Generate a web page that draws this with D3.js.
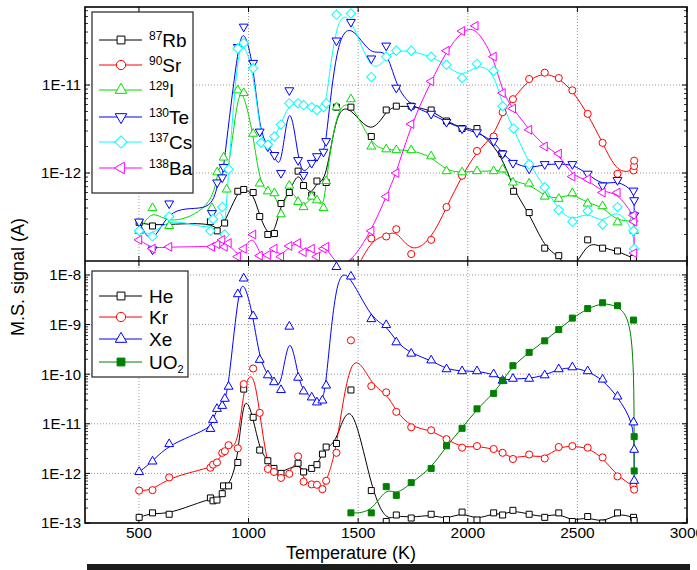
<!DOCTYPE html>
<html>
<head>
<meta charset="utf-8">
<script src="https://cdn.jsdelivr.net/npm/d3@7"></script>
<style>
  body { margin: 0; background: #fff; }
  text { font-family: "Liberation Sans", Arial, sans-serif; }
</style>
</head>
<body>
<div id="chart-area"></div>
<script>
// ---- DATA (temperature K, signal A) ----
// top panel
var rb = [[501,2.75e-13],[562,2.5e-13],[826,2.8e-13],[857,2.2e-13],[891,2.7e-13],[951,6.2e-13],[978,6.5e-13],[1021,6.0e-13],[1051,3.2e-13],[1088,2.0e-13],[1118,2.05e-13],[1148,4.5e-13],[1186,6.0e-13],[1226,1.05e-12],[1251,7.2e-13],[1288,5.6e-13],[1312,8.1e-13],[1354,7.8e-13],[1401,5.6e-12],[1467,5.6e-12],[1560,2.6e-12],[1628,5.2e-12],[1674,5.75e-12],[1742,5.75e-12],[1833,5.2e-12],[1903,3.9e-12],[1974,3.2e-12],[2042,3.2e-12],[2156,1.66e-12],[2209,6.2e-13],[2280,3.55e-13],[2351,1.4e-13],[2415,1.15e-13],[2477,7e-14],[2547,1.74e-13],[2615,1.4e-13],[2683,1.3e-13],[2756,1.07e-13]];
var sr = [[1467,6e-14],[1560,1.8e-13],[1628,1.9e-13],[1674,2.3e-13],[1742,1.2e-13],[1833,1.74e-13],[1903,4.1e-13],[1974,9.3e-13],[2042,1.78e-12],[2118,2.6e-12],[2159,4.9e-12],[2206,6.9e-12],[2280,1.17e-11],[2351,1.38e-11],[2415,1.2e-11],[2477,8.7e-12],[2547,4.7e-12],[2615,2.2e-12],[2683,9.8e-13],[2756,1.07e-12],[2759,1.2e-12],[2759,1.38e-12]];
var iod = [[501,2.2e-13],[562,4.0e-13],[638,2.5e-13],[833,4.0e-13],[857,1.02e-12],[886,1.5e-12],[900,6.5e-13],[951,8.7e-12],[978,8.1e-12],[1021,2.8e-12],[1051,7.6e-13],[1088,6.2e-13],[1118,5.9e-13],[1148,3.4e-13],[1186,7.2e-13],[1226,4.7e-13],[1251,4.1e-13],[1288,5.4e-13],[1312,4.9e-13],[1342,4.0e-13],[1354,8.1e-13],[1401,5.6e-12],[1467,6.9e-12],[1560,2.0e-12],[1628,1.86e-12],[1674,1.82e-12],[1742,1.82e-12],[1833,1.55e-12],[1903,1.05e-12],[1974,1.02e-12],[2042,1.05e-12],[2118,1.05e-12],[2159,1.1e-12],[2206,7.8e-13],[2280,7.6e-13],[2351,5.4e-13],[2415,5.1e-13],[2477,5.9e-13],[2547,4.5e-13],[2615,4.2e-13],[2683,2.75e-13],[2756,3.0e-13],[2759,2.2e-13]];
var te = [[501,2.8e-13],[562,1.35e-13],[638,4.5e-13],[833,3.5e-13],[857,7.8e-13],[880,8.9e-13],[886,1.17e-12],[951,2.7e-11],[978,4.6e-11],[1021,1.78e-11],[1051,2.95e-12],[1088,2.0e-12],[1118,1.6e-12],[1148,1.0e-12],[1186,8.7e-12],[1226,1.4e-12],[1251,9.5e-13],[1288,1.3e-12],[1312,1.55e-12],[1342,1.74e-12],[1354,2.3e-12],[1401,3.2e-11],[1467,5.2e-11],[1560,2.0e-11],[1628,2.8e-11],[1674,9.3e-12],[1742,5.75e-12],[1833,4.7e-12],[1903,3.8e-12],[1974,3.2e-12],[2042,2.9e-12],[2118,2.3e-12],[2159,1.66e-12],[2206,1.3e-12],[2280,1.12e-12],[2351,1.26e-12],[2415,1.26e-12],[2477,1.26e-12],[2547,9.8e-13],[2615,7.2e-13],[2683,8.3e-13],[2756,6.3e-13],[2759,4.9e-13],[2759,3.3e-13]];
var cs = [[501,2.2e-13],[562,1.9e-13],[638,3.2e-13],[826,2.2e-13],[838,3.0e-13],[880,4.1e-13],[891,2.0e-13],[909,1.1e-12],[951,2.6e-11],[978,3.0e-11],[1021,1.55e-11],[1057,2.2e-12],[1088,2.1e-12],[1118,2.6e-12],[1148,3.55e-12],[1186,6.2e-12],[1226,6.2e-12],[1251,5.9e-12],[1288,5.6e-12],[1312,5.2e-12],[1342,5.6e-12],[1354,6.2e-12],[1401,6.3e-11],[1467,6.5e-11],[1560,1.23e-11],[1628,2.1e-11],[1674,2.45e-11],[1742,2.45e-11],[1833,2.1e-11],[1903,1.7e-11],[1974,1.2e-11],[2042,1.74e-11],[2118,1.45e-11],[2159,5.75e-12],[2209,3.2e-12],[2280,1.26e-12],[2351,6.9e-13],[2415,3.8e-13],[2477,2.8e-13],[2547,3.7e-13],[2615,2.6e-13],[2683,4.1e-13],[2756,2.2e-13],[2759,1.38e-13]];
var ba = [[501,1.74e-13],[562,1.38e-13],[638,1.45e-13],[833,1.45e-13],[857,1.55e-13],[880,1.74e-13],[891,1.45e-13],[909,1.6e-13],[951,1.12e-13],[978,1.38e-13],[1021,2.0e-13],[1051,1.15e-13],[1088,1.17e-13],[1118,1.38e-13],[1148,1.12e-13],[1186,1.48e-13],[1226,1.6e-13],[1251,1.26e-13],[1288,1.38e-13],[1312,1.12e-13],[1342,1.38e-13],[1354,1.45e-13],[1401,8.9e-14],[1467,9.5e-14],[1560,2.2e-13],[1628,5.4e-13],[1674,1.0e-12],[1742,3.6e-12],[1833,1.1e-11],[1903,2.45e-11],[1974,4.1e-11],[2035,4.7e-11],[2118,2.1e-11],[2159,8.1e-12],[2206,5.4e-12],[2280,3.1e-12],[2351,2.0e-12],[2415,1.66e-12],[2477,9.1e-13],[2547,8.5e-13],[2615,6.0e-13],[2683,6.0e-13],[2756,3.3e-13],[2759,2.8e-13],[2759,1.23e-13]];

// bottom panel
var he = [[501,1.3e-13],[562,1.6e-13],[638,1.5e-13],[826,3.2e-13],[838,2.8e-13],[856,2.9e-13],[880,3.9e-13],[886,5.6e-13],[909,5.6e-13],[951,1.66e-12],[978,5.0e-11],[1021,1.35e-11],[1051,2.95e-12],[1088,1.8e-12],[1116,1.26e-12],[1148,1.0e-12],[1226,1.6e-12],[1251,1.07e-12],[1288,1.26e-12],[1312,1.5e-12],[1337,2.45e-12],[1354,3.4e-12],[1401,4.0e-12],[1467,4.8e-11],[1560,4.5e-13],[1628,1.07e-13],[1674,1.45e-13],[1742,1.26e-13],[1833,1.5e-13],[1903,1.17e-13],[1974,1.66e-13],[2042,1.15e-13],[2118,1.6e-13],[2159,1.45e-13],[2206,1.8e-13],[2280,1.5e-13],[2351,1.3e-13],[2415,1.6e-13],[2477,1.07e-13],[2547,1.35e-13],[2615,1.0e-13],[2683,1.6e-13],[2756,1.3e-13],[2759,1.12e-13]];
var kr = [[501,4.5e-13],[562,4.6e-13],[638,8.3e-13],[826,1.3e-12],[838,1.5e-12],[856,1.66e-12],[880,2.6e-12],[892,2.8e-12],[909,3.7e-12],[951,3.2e-12],[978,6.3e-11],[1021,1.3e-10],[1051,1.66e-11],[1088,1.23e-12],[1116,1.07e-12],[1148,8.1e-13],[1186,9.8e-13],[1226,2.2e-12],[1251,6.8e-13],[1288,6.0e-13],[1312,5.9e-13],[1337,4.8e-13],[1354,7.1e-13],[1401,2.6e-12],[1467,4.8e-10],[1560,5.75e-11],[1628,4.3e-11],[1674,1.74e-11],[1742,8.5e-12],[1833,7.4e-12],[1903,4.9e-12],[1974,3.3e-12],[2042,3.55e-12],[2118,3.1e-12],[2159,2.6e-12],[2206,1.95e-12],[2280,2.4e-12],[2351,2.0e-12],[2415,3.4e-12],[2477,3.55e-12],[2547,3.3e-12],[2615,2.1e-12],[2683,8.7e-13],[2756,5.6e-13],[2759,4.7e-13]];
var xe = [[501,1.07e-12],[562,1.74e-12],[638,3.9e-12],[826,7.9e-12],[838,1.2e-11],[856,2.0e-11],[880,2.3e-11],[892,3.2e-11],[909,5.6e-11],[951,4.1e-9],[978,8.5e-9],[1021,1.48e-9],[1051,1.95e-10],[1088,9.5e-11],[1116,6.9e-11],[1148,4.8e-11],[1186,9.1e-10],[1226,8.5e-11],[1251,4.5e-11],[1288,3.4e-11],[1312,2.7e-11],[1337,2.95e-11],[1354,5.9e-11],[1401,1.45e-8],[1467,9.3e-9],[1560,1.29e-9],[1628,9.8e-10],[1674,4.4e-10],[1742,2.6e-10],[1833,1.9e-10],[1903,1.26e-10],[1974,1.15e-10],[2042,1.15e-10],[2118,1.0e-10],[2159,7.4e-11],[2206,8.1e-11],[2280,8.1e-11],[2351,9.5e-11],[2415,1.26e-10],[2477,1.38e-10],[2547,1.15e-10],[2615,7.8e-11],[2683,3.55e-11],[2756,1.07e-11],[2759,3.0e-12],[2759,7.1e-13]];
var uo2 = [[1467,1.6e-13],[1560,1.6e-13],[1628,5.4e-13],[1674,3.6e-13],[1742,6.5e-13],[1833,1.26e-12],[1903,3.6e-12],[1974,8.1e-12],[2042,2.0e-11],[2118,4.1e-11],[2159,7.4e-11],[2206,1.48e-10],[2280,2.75e-10],[2351,4.7e-10],[2415,7.9e-10],[2477,1.35e-9],[2547,2.1e-9],[2615,2.75e-9],[2683,2.4e-9],[2756,1.23e-9],[2759,5.5e-12],[2759,1.12e-12]];

var xTicks = [500, 1000, 1500, 2000, 2500, 3000];
var topTicks = [1e-12, 1e-11];
var botTicks = [1e-13, 1e-12, 1e-11, 1e-10, 1e-9, 1e-8];

// ---- LAYOUT ----
var width = 697, height = 570;
var left = 85, right = 687;
var topY0 = 7, topY1 = 261, botY1 = 523;

var svg = d3.select("#chart-area").append("svg")
    .attr("width", width).attr("height", height);

var x = d3.scaleLinear().domain([254, 3000]).range([left, right]);
var yTop = d3.scaleLog().domain([1e-13, 7.7e-11]).range([topY1, topY0]);
var yBot = d3.scaleLog().domain([1e-13, 1.91e-8]).range([botY1, topY1]);

var sq = d3.symbol().type(d3.symbolSquare);
var circ = d3.symbol().type(d3.symbolCircle);
var tri = d3.symbol().type(d3.symbolTriangle);

// marker kinds: [generator, size, rotation]
var mk = {
    square: [sq, 36, 0],
    circle: [circ, 40, 0],
    up: [tri, 34, 0],
    down: [tri, 34, 180],
    diamond: [sq, 44, 45],
    left: [tri, 34, -90]
};

var topSeries = [
    { data: rb, color: "#000000", marker: "square", iso: "87", name: "Rb" },
    { data: sr, color: "#ff0000", marker: "circle", iso: "90", name: "Sr" },
    { data: iod, color: "#00dd00", marker: "up", iso: "129", name: "I" },
    { data: te, color: "#0000ff", marker: "down", iso: "130", name: "Te" },
    { data: cs, color: "#00ffff", marker: "diamond", iso: "137", name: "Cs" },
    { data: ba, color: "#ff00ff", marker: "left", iso: "138", name: "Ba" }
];
var botSeries = [
    { data: he, color: "#000000", marker: "square", name: "He" },
    { data: kr, color: "#ff0000", marker: "circle", name: "Kr" },
    { data: xe, color: "#0000ff", marker: "up", name: "Xe" },
    { data: uo2, color: "#008000", marker: "square", name: "UO", sub: "2", filled: true }
];

function markerPath(kind, scale) {
    var m = mk[kind];
    return m[0].size(m[1] * (scale || 1))();
}
function markerRot(kind) { return mk[kind][2]; }

function drawPanel(y, y0, y1, ticks, series, id) {
    var clip = svg.append("clipPath").attr("id", id)
        .append("rect").attr("x", left).attr("y", y0)
        .attr("width", right - left).attr("height", y1 - y0);

    var grid = svg.append("g");
    // gridlines
    grid.selectAll(".hg").data(ticks.filter(function (t) { return y(t) > y0 + 2 && y(t) < y1 - 2; }))
        .enter().append("line")
        .attr("x1", left).attr("x2", right)
        .attr("y1", function (d) { return y(d); }).attr("y2", function (d) { return y(d); })
        .attr("stroke", "#999").attr("stroke-width", 1).attr("stroke-dasharray", "1,2");
    grid.selectAll(".vg").data(xTicks.slice(0, 5)).enter().append("line")
        .attr("x1", function (d) { return x(d); }).attr("x2", function (d) { return x(d); })
        .attr("y1", y0).attr("y2", y1)
        .attr("stroke", "#999").attr("stroke-width", 1).attr("stroke-dasharray", "1,2");

    // minor log ticks on left and right
    var minors = [];
    var lo = Math.round(Math.log10(y.domain()[0])), hi = Math.ceil(Math.log10(y.domain()[1]));
    for (var e = lo; e < hi; e++) {
        for (var k = 2; k <= 9; k++) {
            var v = k * Math.pow(10, e);
            if (y(v) > y0 && y(v) < y1) minors.push(v);
        }
    }
    grid.selectAll(".mt").data(minors).enter().append("path")
        .attr("d", function (d) {
            return "M" + left + "," + y(d) + "h3M" + right + "," + y(d) + "h-3";
        })
        .attr("stroke", "#000").attr("stroke-width", 0.8);
    grid.selectAll(".Mt").data(ticks).enter().append("path")
        .attr("d", function (d) {
            return "M" + left + "," + y(d) + "h5M" + right + "," + y(d) + "h-5";
        })
        .attr("stroke", "#000").attr("stroke-width", 1);
    grid.selectAll(".xt").data(xTicks).enter().append("path")
        .attr("d", function (d) {
            return "M" + x(d) + "," + y0 + "v5M" + x(d) + "," + y1 + "v-5";
        })
        .attr("stroke", "#000").attr("stroke-width", 1);

    // tick labels
    svg.append("g").selectAll("text").data(ticks).enter().append("text")
        .attr("x", left - 4).attr("y", function (d) { return y(d); })
        .attr("dy", "0.36em")
        .attr("text-anchor", "end")
        .attr("font-size", "15px")
        .text(function (d) { return "1E" + Math.round(Math.log10(d)); });

    // series
    var plot = svg.append("g").attr("clip-path", "url(#" + id + ")");
    var line = d3.line()
        .x(function (d) { return x(d[0]); })
        .y(function (d) { return y(d[1]); })
        .curve(d3.curveBasis);
    series.forEach(function (s) {
        plot.append("path").datum(s.data)
            .attr("d", line)
            .attr("fill", "none")
            .attr("stroke", s.color)
            .attr("stroke-width", 1);
    });
    series.forEach(function (s) {
        plot.selectAll(null).data(s.data).enter().append("path")
            .attr("d", markerPath(s.marker))
            .attr("transform", function (d) {
                return "translate(" + x(d[0]) + "," + y(d[1]) + ") rotate(" + markerRot(s.marker) + ")";
            })
            .attr("fill", s.filled ? s.color : "white")
            .attr("stroke", s.color)
            .attr("stroke-width", 1);
    });
}

drawPanel(yTop, topY0, topY1, topTicks, topSeries, "clipTop");
drawPanel(yBot, topY1, botY1, botTicks, botSeries, "clipBot");

// frame
svg.append("rect").attr("x", left).attr("y", topY0)
    .attr("width", right - left).attr("height", botY1 - topY0)
    .attr("fill", "none").attr("stroke", "#000").attr("stroke-width", 1.6);
svg.append("line").attr("x1", left).attr("x2", right)
    .attr("y1", topY1).attr("y2", topY1)
    .attr("stroke", "#000").attr("stroke-width", 1.6);

// x tick labels
svg.append("g").selectAll("text").data(xTicks).enter().append("text")
    .attr("x", function (d) { return x(d); })
    .attr("y", 538)
    .attr("text-anchor", "middle")
    .attr("font-size", "15.5px")
    .text(function (d) { return d; });

// axis labels
svg.append("text")
    .attr("x", 351).attr("y", 559)
    .attr("text-anchor", "middle")
    .attr("font-size", "18px")
    .text("Temperature (K)");
svg.append("text")
    .attr("transform", "translate(24, 277) rotate(-90)")
    .attr("text-anchor", "middle")
    .attr("font-size", "18px")
    .text("M.S. signal (A)");

// ---- LEGENDS ----
function legend(series, bx, by, bw, bh, rows) {
    var g = svg.append("g");
    g.append("rect").attr("x", bx).attr("y", by).attr("width", bw).attr("height", bh)
        .attr("fill", "white").attr("stroke", "#333").attr("stroke-width", 1.3);
    series.forEach(function (s, i) {
        var ry = rows[i];
        g.append("line").attr("x1", bx + 7).attr("x2", bx + 50)
            .attr("y1", ry).attr("y2", ry)
            .attr("stroke", s.color).attr("stroke-width", 1);
        g.append("path").attr("d", markerPath(s.marker, 1.7))
            .attr("transform", "translate(" + (bx + 29) + "," + ry + ") rotate(" + markerRot(s.marker) + ")")
            .attr("fill", s.filled ? s.color : "white")
            .attr("stroke", s.color).attr("stroke-width", 1);
        var t = g.append("text").attr("x", bx + 57).attr("y", ry + 7).attr("font-size", "19px");
        if (s.iso) {
            t.append("tspan").attr("font-size", "12px").attr("dy", "-7").text(s.iso);
            t.append("tspan").attr("dy", "7").text(s.name);
        } else {
            t.append("tspan").text(s.name);
            if (s.sub) t.append("tspan").attr("font-size", "11px").attr("dy", "4").text(s.sub);
        }
    });
}
legend(topSeries, 92, 12, 101, 181, [40, 65, 90, 117, 142, 168]);
legend(botSeries, 92, 271, 96, 106, [296, 317, 339, 362]);

// dark strip at the bottom edge of the scan
svg.append("rect").attr("x", 87).attr("y", 564).attr("width", 603).attr("height", 6)
    .attr("fill", "#1c1c1c");
</script>
</body>
</html>
